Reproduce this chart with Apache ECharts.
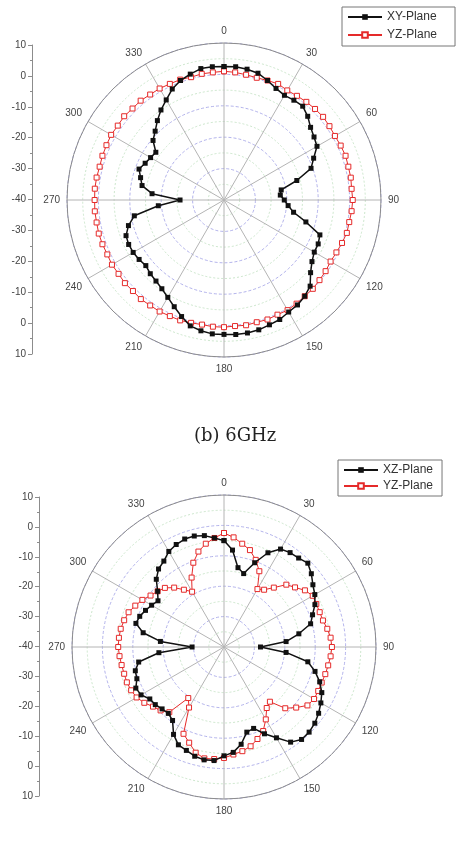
<!DOCTYPE html>
<html>
<head>
<meta charset="utf-8">
<script src="https://cdn.jsdelivr.net/npm/echarts@6/dist/echarts.min.js"></script>
<style>
  html, body { margin: 0; padding: 0; background: #fff; }
  #main { width: 457px; height: 849px; }
</style>
</head>
<body>
<div id="main"></div>
<script>
// 角度 (deg), 5度一点
const angles = [
  0, 5, 10, 15, 20, 25, 30, 35, 40, 45, 50, 55,
  60, 65, 70, 75, 80, 85, 90, 95, 100, 105, 110, 115,
  120, 125, 130, 135, 140, 145, 150, 155, 160, 165, 170, 175,
  180, 185, 190, 195, 200, 205, 210, 215, 220, 225, 230, 235,
  240, 245, 250, 255, 260, 265, 270, 275, 280, 285, 290, 295,
  300, 305, 310, 315, 320, 325, 330, 335, 340, 345, 350, 355
];

// 上图 (dB)
const xyPlane = [
  2.5, 2.6, 2.3, 1.8, 0.5, -0.8, -1.5, -1.2, -1.0, -2.3, -4.0, -5.0,
  -5.8, -8.5, -10.5, -16.0, -21.5, -22.0, -20.8, -19.5, -17.5, -13.0, -7.5, -6.9,
  -6.8, -5.8, -4.0, -1.2, 0.0, 0.8, 1.2, 2.0, 2.3, 2.8, 3.0, 3.0,
  2.8, 2.8, 2.3, 1.5, -0.5, -2.5, -4.2, -5.5, -6.3, -6.8, -7.5, -7.0,
  -6.6, -6.5, -6.8, -8.5, -11.0, -19.0, -26.0, -17.0, -13.5, -12.5, -11.2, -12.3,
  -13.0, -13.5, -10.5, -9.0, -7.0, -5.0, -3.2, -1.0, 0.5, 1.5, 2.5, 2.6
];
const yzPlane1 = [
  1.0, 0.8, 0.5, 0.3, 0.5, 0.8, 0.3, 0.5, 0.8, 1.0, 1.2, 1.0,
  0.8, 1.0, 1.2, 1.0, 1.0, 0.8, 1.0, 0.8, 0.5, 0.5, 0.0, -0.5,
  -0.8, -0.5, -0.3, 0.0, 0.0, 0.3, 0.5, 0.3, 0.5, 0.3, 0.5, 0.3,
  0.5, 0.5, 0.3, 0.5, 0.8, 0.8, 1.0, 1.0, 1.2, 1.0, 1.2, 1.0,
  1.2, 1.0, 1.2, 1.3, 1.2, 1.3, 1.2, 1.3, 1.2, 1.0, 1.2, 1.3,
  1.5, 1.3, 1.5, 1.2, 1.3, 1.0, 1.0, 0.8, 0.8, 0.5, 0.8, 0.8
];

// 下图 (dB)
const xzPlane = [
  -5.0, -8.0, -13.5, -15.0, -10.5, -5.8, -2.8, -2.1, -1.8, -1.0, -2.5, -4.3,
  -5.5, -7.0, -9.0, -10.5, -15.0, -19.5, -28.0, -19.5, -12.0, -9.0, -6.5, -4.5,
  -3.2, -2.0, -1.0, -0.4, -0.3, -1.8, -5.5, -8.5, -11.5, -11.0, -7.5, -5.2,
  -4.2, -2.5, -2.3, -2.8, -3.8, -4.5, -6.8, -10.5, -11.5, -11.2, -10.5, -10.2,
  -8.5, -8.0, -9.5, -9.8, -11.5, -18.5, -29.5, -19.0, -13.0, -10.0, -10.5, -11.5,
  -12.5, -13.5, -11.5, -8.5, -6.5, -5.5, -3.7, -2.8, -2.2, -2.2, -2.8, -4.0
];
const yzPlane2 = [
  -2.5, -3.8, -5.5, -7.0, -9.5, -12.5, -18.0, -17.0, -14.5, -11.0, -9.5, -7.5,
  -6.3, -6.5, -6.5, -6.3, -5.5, -4.8, -4.5, -4.8, -5.2, -5.5, -5.8, -5.8,
  -5.8, -6.5, -9.0, -11.5, -16.5, -15.5, -12.5, -9.5, -7.8, -6.2, -5.2, -4.5,
  -3.5, -3.0, -2.8, -4.0, -6.5, -8.5, -17.0, -19.5, -12.0, -10.5, -9.5, -8.0,
  -6.8, -6.3, -6.0, -6.0, -5.8, -5.5, -5.2, -5.3, -5.5, -6.0, -6.6, -7.8,
  -9.0, -10.5, -11.5, -12.5, -14.5, -17.0, -19.0, -14.8, -10.5, -7.5, -5.5, -4.0
];

// 左侧刻度
const rulerLabels = ['10', '0', '-10', '-20', '-30', '-40', '-30', '-20', '-10', '0', '10'];
const caption = '(b) 6GHz';

const chart = echarts.init(document.getElementById('main'));

function toPolar(vals) {
  const d = angles.map((a, i) => [vals[i], a]);
  d.push([vals[0], 360]); // 闭合
  return d;
}

function makePolar(cx, cy, r) {
  return { center: [cx, cy], radius: r };
}

function makeAngleAxis(idx) {
  return {
    polarIndex: idx,
    type: 'value',
    min: 0,
    max: 360,
    interval: 30,
    startAngle: 90,
    clockwise: true,
    axisLine: { lineStyle: { color: '#8c8c8c', width: 1 } },
    axisTick: { show: false },
    axisLabel: { color: '#444', fontSize: 10, fontFamily: 'Liberation Sans', margin: 7 },
    splitLine: { show: true, lineStyle: { color: '#b4b4b4', width: 1 } }
  };
}

function makeRadiusAxis(idx) {
  return {
    polarIndex: idx,
    type: 'value',
    min: -40,
    max: 10,
    interval: 10,
    axisLine: { show: false },
    axisTick: { show: false },
    axisLabel: { show: false },
    minorTick: { show: false, splitNumber: 2 },
    splitLine: { show: true, lineStyle: { color: '#a0a0e6', type: [3, 2], width: 0.8 } },
    minorSplitLine: { show: true, lineStyle: { color: '#bfe0bf', type: [2, 2], width: 0.8 } }
  };
}

function makeRuler(idx) {
  return {
    gridIndex: idx,
    type: 'value',
    min: 0,
    max: 100,
    interval: 10,
    position: 'left',
    axisLine: { show: true, lineStyle: { color: '#8c8c8c', width: 1 } },
    axisTick: { show: true, length: 4, lineStyle: { color: '#8c8c8c' } },
    minorTick: { show: true, splitNumber: 2, length: 2, lineStyle: { color: '#8c8c8c' } },
    splitLine: { show: false },
    axisLabel: {
      color: '#444', fontSize: 10, fontFamily: 'Liberation Sans', margin: 6,
      formatter: v => rulerLabels[Math.round(v / 10)]
    }
  };
}

function blackSeries(name, polarIndex, vals) {
  return {
    name: name,
    type: 'line',
    coordinateSystem: 'polar',
    polarIndex: polarIndex,
    data: toPolar(vals),
    symbol: 'rect',
    symbolSize: 5,
    showAllSymbol: true,
    lineStyle: { color: '#111', width: 1.5 },
    itemStyle: { color: '#111' },
    z: 3
  };
}

function redSeries(name, polarIndex, vals) {
  return {
    name: name,
    type: 'line',
    coordinateSystem: 'polar',
    polarIndex: polarIndex,
    data: toPolar(vals),
    symbol: 'rect',
    symbolSize: 5,
    showAllSymbol: true,
    lineStyle: { color: '#e52a2a', width: 1 },
    itemStyle: { color: '#fff', borderColor: '#e52a2a', borderWidth: 1 },
    z: 2
  };
}

const legendBase = {
  orient: 'vertical',
  itemWidth: 34,
  itemHeight: 7,
  itemGap: 6,
  borderColor: '#777',
  borderWidth: 1,
  backgroundColor: '#fff',
  textStyle: { color: '#333', fontSize: 12, fontFamily: 'Liberation Sans' },
  selectedMode: false
};

const option = {
  animation: false,
  title: {
    text: caption,
    left: 189,
    top: 422,
    textStyle: { fontFamily: 'DejaVu Serif', fontSize: 18, fontWeight: 'normal', color: '#222' }
  },
  legend: [
    Object.assign({}, legendBase, {
      data: ['XY-Plane', 'YZ-Plane'],
      left: 342, top: 7,
      padding: [4, 18, 5, 5]
    }),
    Object.assign({}, legendBase, {
      data: ['XZ-Plane', 'YZ-Plane'],
      left: 338, top: 460,
      padding: [4, 9, 4, 5],
      itemGap: 4
    })
  ],
  polar: [makePolar(224, 200, 157), makePolar(224, 647, 152)],
  angleAxis: [makeAngleAxis(0), makeAngleAxis(1)],
  radiusAxis: [makeRadiusAxis(0), makeRadiusAxis(1)],
  grid: [
    { left: 32, top: 45, width: 10, height: 309 },
    { left: 39, top: 497, width: 10, height: 299 }
  ],
  xAxis: [
    { gridIndex: 0, type: 'value', show: false, min: 0, max: 1 },
    { gridIndex: 1, type: 'value', show: false, min: 0, max: 1 }
  ],
  yAxis: [makeRuler(0), makeRuler(1)],
  series: [
    blackSeries('XY-Plane', 0, xyPlane),
    redSeries('YZ-Plane', 0, yzPlane1),
    blackSeries('XZ-Plane', 1, xzPlane),
    redSeries('YZ-Plane', 1, yzPlane2)
  ]
};

chart.setOption(option);
window.addEventListener('resize', () => chart.resize());
</script>
</body>
</html>
